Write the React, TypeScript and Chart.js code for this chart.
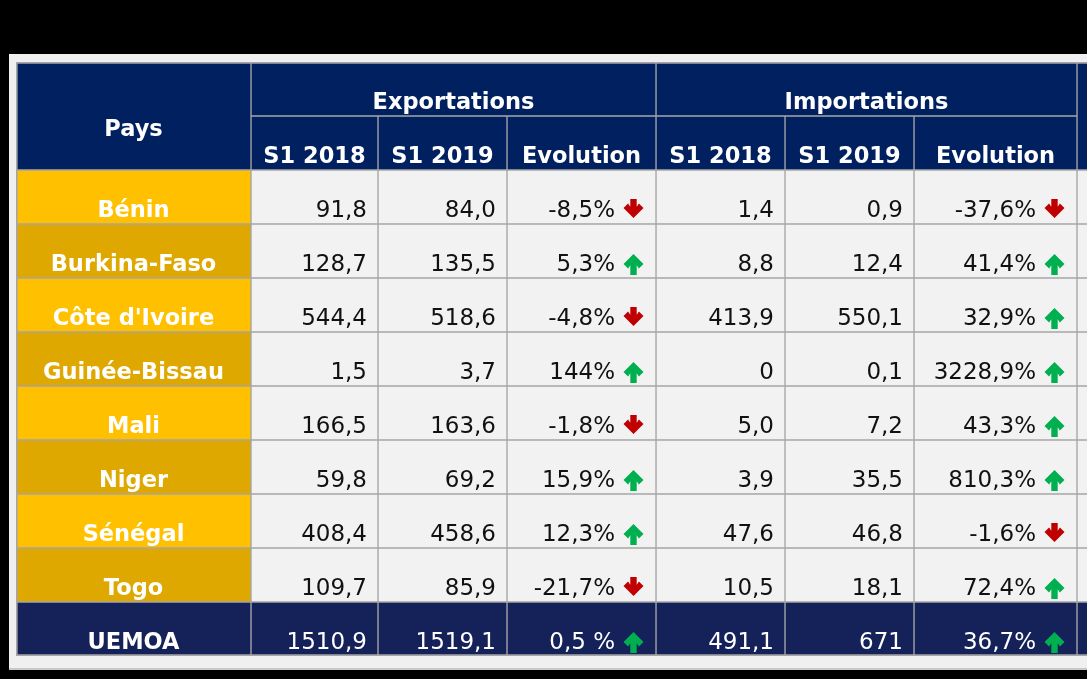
import React, { useEffect, useRef } from 'react';
import { Chart, registerables } from 'chart.js';

Chart.register(...registerables);

// ---------- data ----------
const rowKeys = ['header1', 'header2', 'Bénin', 'Burkina-Faso', "Côte d'Ivoire", 'Guinée-Bissau', 'Mali', 'Niger', 'Sénégal', 'Togo', 'UEMOA'];
const countries = ['Bénin', 'Burkina-Faso', "Côte d'Ivoire", 'Guinée-Bissau', 'Mali', 'Niger', 'Sénégal', 'Togo', 'UEMOA'];
const groupHeaders = ['Exportations', 'Importations'];
const subHeaders = ['S1 2018', 'S1 2019', 'Evolution'];
const firstHeader = 'Pays';
const exp2018 = ['91,8', '128,7', '544,4', '1,5', '166,5', '59,8', '408,4', '109,7', '1510,9'];
const exp2019 = ['84,0', '135,5', '518,6', '3,7', '163,6', '69,2', '458,6', '85,9', '1519,1'];
const expEvol = ['-8,5%', '5,3%', '-4,8%', '144%', '-1,8%', '15,9%', '12,3%', '-21,7%', '0,5 %'];
const imp2018 = ['1,4', '8,8', '413,9', '0', '5,0', '3,9', '47,6', '10,5', '491,1'];
const imp2019 = ['0,9', '12,4', '550,1', '0,1', '7,2', '35,5', '46,8', '18,1', '671'];
const impEvol = ['-37,6%', '41,4%', '32,9%', '3228,9%', '43,3%', '810,3%', '-1,6%', '72,4%', '36,7%'];

// ---------- layout / style ----------
const COL_EDGES = [0, 235, 362, 491, 640, 769, 898, 1061, 1200];
const X_MAX = 1071;
const NAVY = '#002060';
const TOTAL_NAVY = '#15225A';
const GOLD_A = '#FFC000';
const GOLD_B = '#DFA800';
const CELL_BG = '#F2F2F2';
const GRID = '#A6A6A6';
const FRAME = '#F0F0F0';
const RED = '#C00000';
const GREEN = '#00B050';
const FONT = '"DejaVu Sans", "Open Sans", sans-serif';
const BOLD_SIZE = 22.5;
const REG_SIZE = 23;

type Border = { top: number; right: number; bottom: number; left: number };
type Cell = {
  range: [number, number] | null;
  bg: string;
  text: string;
  color: string;
  bold: boolean;
  align: 'left' | 'center' | 'right';
  arrow?: 'up' | 'down';
  border: Border;
  baselineFromBottom?: number;
};

function buildCells(): Cell[][] {
  const nCols = COL_EDGES.length - 1;
  const nRows = rowKeys.length;
  const cells: Cell[][] = [];
  for (let c = 0; c < nCols; c++) {
    const col: Cell[] = [];
    for (let r = 0; r < nRows; r++) {
      const border: Border = { top: 1, right: 1, bottom: 1, left: 1 };
      if (c === 0) border.left = 2;
      if (r === 0) border.top = 2;
      if (r === nRows - 1) border.bottom = 2;
      const cell: Cell = {
        range: [COL_EDGES[c], COL_EDGES[c + 1]],
        bg: CELL_BG,
        text: '',
        color: '#111111',
        bold: false,
        align: 'right',
        border,
      };
      if (r === 0) {
        cell.bg = NAVY;
        cell.color = '#FFFFFF';
        cell.bold = true;
        cell.align = 'center';
        if (c === 0) {
          cell.text = firstHeader;
          cell.border.bottom = 0;
          cell.baselineFromBottom = -20;
        } else if (c === 1 || c === 4) {
          cell.range = [COL_EDGES[c], COL_EDGES[c + 3]];
          cell.text = groupHeaders[c === 1 ? 0 : 1];
        } else if (c === 7) {
          cell.border.bottom = 0;
        } else {
          cell.range = null;
        }
      } else if (r === 1) {
        cell.bg = NAVY;
        cell.color = '#FFFFFF';
        cell.bold = true;
        cell.align = 'center';
        if (c === 0 || c === 7) {
          cell.border.top = 0;
        } else {
          cell.text = subHeaders[(c - 1) % 3];
        }
      } else {
        const i = r - 2;
        const isTotal = i === countries.length - 1;
        if (c === 0) {
          cell.bg = isTotal ? TOTAL_NAVY : i % 2 === 0 ? GOLD_A : GOLD_B;
          cell.color = '#FFFFFF';
          cell.bold = true;
          cell.align = 'center';
          cell.text = countries[i];
        } else {
          if (isTotal) {
            cell.bg = TOTAL_NAVY;
            cell.color = '#FFFFFF';
          }
          const src = [null, exp2018, exp2019, expEvol, imp2018, imp2019, impEvol, null][c];
          if (src) {
            cell.text = src[i];
            if (c === 3 || c === 6) cell.arrow = src[i].trim().startsWith('-') ? 'down' : 'up';
          }
        }
      }
      col.push(cell);
    }
    cells.push(col);
  }
  return cells;
}

const CELLS = buildCells();

function drawArrow(ctx: CanvasRenderingContext2D, cx: number, bottom: number, dir: 'up' | 'down') {
  const h = dir === 'down' ? 19 : 21;
  const top = bottom - h;
  // chevron-headed arrow, defined pointing down with the tip at (0, h)
  const pts: [number, number][] = [
    [-3.2, 0],
    [3.2, 0],
    [3.2, h - 11.2],
    [5.4, h - 14.6],
    [10, h - 10],
    [0, h],
    [-10, h - 10],
    [-5.4, h - 14.6],
    [-3.2, h - 11.2],
  ];
  ctx.save();
  ctx.fillStyle = dir === 'up' ? GREEN : RED;
  ctx.beginPath();
  pts.forEach(([dx, dy], k) => {
    const y = dir === 'down' ? top + dy : bottom - dy;
    if (k === 0) ctx.moveTo(cx + dx, y);
    else ctx.lineTo(cx + dx, y);
  });
  ctx.closePath();
  ctx.fill();
  ctx.restore();
}

const tablePlugin = {
  id: 'tableText',
  beforeDraw(chart: any) {
    const ctx = chart.ctx as CanvasRenderingContext2D;
    ctx.save();
    ctx.fillStyle = '#000000';
    ctx.fillRect(0, 0, chart.width, chart.height);
    ctx.fillStyle = FRAME;
    ctx.fillRect(9, 54, chart.width - 9, 616);
    ctx.fillStyle = '#C8C8C8';
    ctx.fillRect(9, 668, chart.width - 9, 2);
    ctx.restore();
  },
  afterDatasetsDraw(chart: any) {
    const ctx = chart.ctx as CanvasRenderingContext2D;
    ctx.save();
    chart.data.datasets.forEach((_ds: any, di: number) => {
      const meta = chart.getDatasetMeta(di);
      meta.data.forEach((el: any, ri: number) => {
        const cell = CELLS[di][ri];
        if (!cell || !cell.range || !cell.text) return;
        const p = el.getProps(['x', 'y', 'base', 'height'], true);
        const left = Math.min(p.x, p.base);
        const right = Math.max(p.x, p.base);
        const bottom = p.y + p.height / 2;
        const baseline = bottom - (cell.baselineFromBottom ?? 7);
        ctx.font = cell.bold ? `bold ${BOLD_SIZE}px ${FONT}` : `${REG_SIZE}px ${FONT}`;
        ctx.fillStyle = cell.color;
        ctx.textBaseline = 'alphabetic';
        if (cell.align === 'center') {
          ctx.textAlign = 'center';
          ctx.fillText(cell.text, (left + right) / 2, baseline);
        } else {
          ctx.textAlign = 'right';
          if (cell.arrow) {
            const arrowCx = right - 13 - 9.5;
            drawArrow(ctx, arrowCx, cell.arrow === 'down' ? bottom - 6 : bottom - 3, cell.arrow);
            ctx.fillText(cell.text, right - 13 - 19 - 9, baseline);
          } else {
            ctx.fillText(cell.text, right - 11, baseline);
          }
        }
      });
    });
    ctx.restore();
  },
};

export default function App() {
  const canvasRef = useRef<HTMLCanvasElement | null>(null);

  useEffect(() => {
    const canvas = canvasRef.current;
    if (!canvas) return;
    const datasets = CELLS.map((col, c) => ({
      label: `col${c}`,
      data: col.map((cell) => cell.range) as any,
      backgroundColor: (ctx: any) => CELLS[ctx.datasetIndex][ctx.dataIndex]?.bg ?? CELL_BG,
      borderColor: GRID,
      borderWidth: (ctx: any) => CELLS[ctx.datasetIndex][ctx.dataIndex]?.border ?? 1,
      borderSkipped: false as const,
      grouped: false,
      barPercentage: 1,
      categoryPercentage: 1,
    }));
    const chart = new Chart(canvas, {
      type: 'bar',
      data: { labels: rowKeys, datasets },
      options: {
        indexAxis: 'y',
        responsive: false,
        animation: false,
        events: [],
        devicePixelRatio: 1,
        layout: { padding: { left: 16, top: 62, right: 0, bottom: 23 } },
        plugins: { legend: { display: false }, tooltip: { enabled: false }, title: { display: false } },
        scales: {
          x: { type: 'linear', min: 0, max: X_MAX, display: false },
          y: { type: 'category', display: false, offset: true },
        },
      },
      plugins: [tablePlugin],
    });
    return () => chart.destroy();
  }, []);

  return (
    <div style={{ position: 'fixed', left: 0, top: 0, width: 1087, height: 679, background: '#000', overflow: 'hidden' }}>
      <canvas ref={canvasRef} width={1087} height={679} style={{ display: 'block', width: 1087, height: 679 }} />
    </div>
  );
}
